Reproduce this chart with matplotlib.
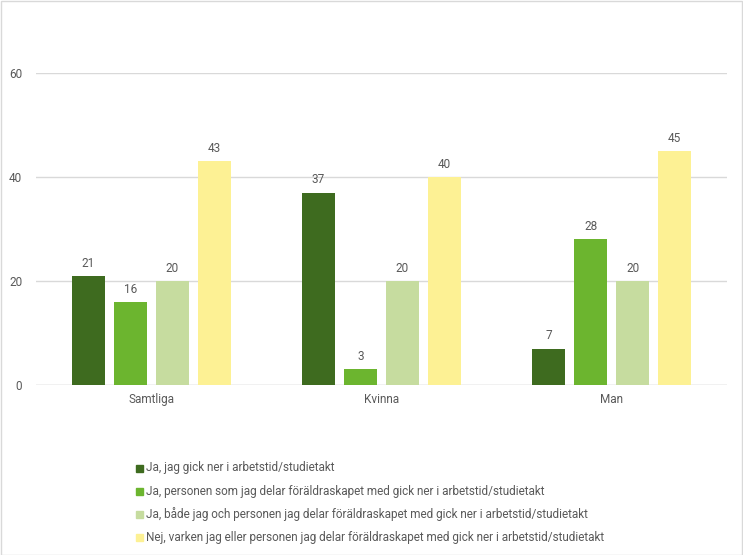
import matplotlib
matplotlib.use("Agg")
import matplotlib.pyplot as plt
import numpy as np
from matplotlib.patches import Rectangle

categories = ["Samtliga", "Kvinna", "Man"]
series_names = [
    "Ja, jag gick ner i arbetstid/studietakt",
    "Ja, personen som jag delar föräldraskapet med gick ner i arbetstid/studietakt",
    "Ja, både jag och personen jag delar föräldraskapet med gick ner i arbetstid/studietakt",
    "Nej, varken jag eller personen jag delar föräldraskapet med gick ner i arbetstid/studietakt",
]
values = [
    [21, 37, 7],
    [16, 3, 28],
    [20, 20, 20],
    [43, 40, 45],
]
colors = ["#3e6b1f", "#6cb52f", "#c6dc9f", "#fdf194"]
yticks = [0, 20, 40, 60]

plt.rcParams['font.family'] = ['Roboto', 'DejaVu Sans']
W, H = 743, 555
fig = plt.figure(figsize=(W/100, H/100), dpi=100)
ax = fig.add_axes([36/W, (H-385)/H, (727-36)/W, (385-73)/H])

x = np.arange(len(categories))
offsets = [-0.273, -0.091, 0.091, 0.273]
width = 0.143
fs = 8.5
tc = '#595959'
for i, (vals, c) in enumerate(zip(values, colors)):
    bars = ax.bar(x + offsets[i], vals, width, color=c, zorder=3)
    for b, v in zip(bars, vals):
        ax.text(b.get_x() + b.get_width()/2, v + 1.2, str(v), ha='center', va='bottom',
                fontsize=fs, color=tc)

ax.set_xlim(-0.5, 2.5)
ax.set_ylim(0, 60)
ax.set_yticks(yticks)
ax.set_yticklabels([str(t) for t in yticks])
ax.set_xticks(x)
ax.set_xticklabels(categories)
ax.tick_params(axis='both', length=0, labelsize=fs, colors=tc)
ax.tick_params(axis='y', pad=10)
ax.tick_params(axis='x', pad=6)
ax.grid(axis='y', color='#d9d9d9', linewidth=1, zorder=0)
for s in ax.spines.values():
    s.set_visible(False)
ax.axhline(0, color='#d9d9d9', linewidth=1, zorder=2)

# legend
lx = 136
for i, (name, c) in enumerate(zip(series_names, colors)):
    ly = 468 + i * 23
    fig.patches.append(Rectangle((lx/W, (H-ly-3.5)/H), 7/W, 7/H, transform=fig.transFigure,
                                 color=c, figure=fig))
    fig.text((lx+10)/W, (H-ly)/H, name, fontsize=fs, color=tc, va='center', ha='left')

# border
fig.patches.append(Rectangle((0.5/W, 0.5/H), (W-1.5)/W, (H-1.5)/H, transform=fig.transFigure,
                             fill=False, edgecolor='#d9d9d9', linewidth=1, figure=fig))

fig.savefig("out.png", dpi=100)
